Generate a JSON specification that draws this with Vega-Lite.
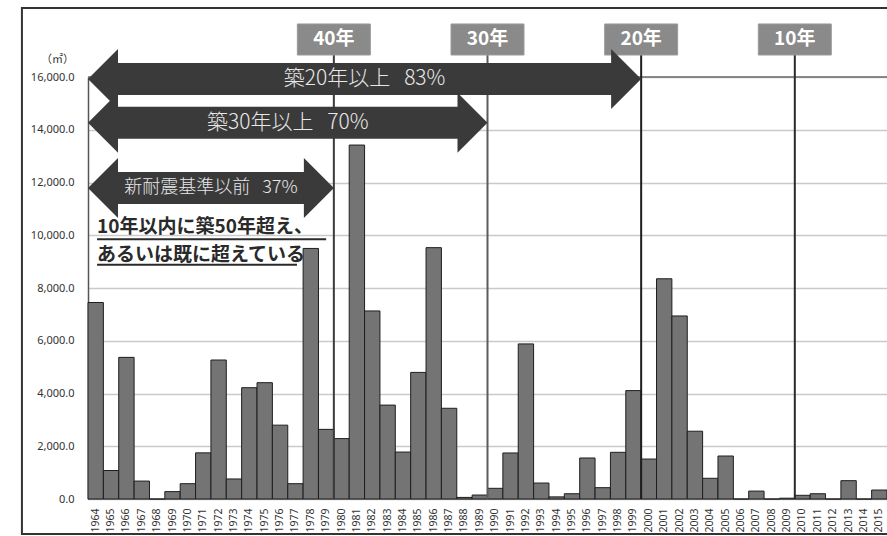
{
  "$schema": "https://vega.github.io/schema/vega-lite/v6.json",
  "width": 799,
  "height": 422,
  "autosize": "none",
  "padding": {"left": 88, "top": 77, "right": 0, "bottom": 37},
  "background": "white",
  "config": {"view": {"stroke": null}, "font": "Noto Sans"},
  "datasets": {
    "bars": [
      {"year": "1964", "area": 7450}, {"year": "1965", "area": 1080}, {"year": "1966", "area": 5370},
      {"year": "1967", "area": 680}, {"year": "1968", "area": 0}, {"year": "1969", "area": 280},
      {"year": "1970", "area": 580}, {"year": "1971", "area": 1750}, {"year": "1972", "area": 5270},
      {"year": "1973", "area": 760}, {"year": "1974", "area": 4220}, {"year": "1975", "area": 4410},
      {"year": "1976", "area": 2800}, {"year": "1977", "area": 580}, {"year": "1978", "area": 9500},
      {"year": "1979", "area": 2640}, {"year": "1980", "area": 2290}, {"year": "1981", "area": 13420},
      {"year": "1982", "area": 7130}, {"year": "1983", "area": 3560}, {"year": "1984", "area": 1780},
      {"year": "1985", "area": 4800}, {"year": "1986", "area": 9530}, {"year": "1987", "area": 3440},
      {"year": "1988", "area": 60}, {"year": "1989", "area": 150}, {"year": "1990", "area": 405},
      {"year": "1991", "area": 1745}, {"year": "1992", "area": 5880}, {"year": "1993", "area": 605},
      {"year": "1994", "area": 80}, {"year": "1995", "area": 200}, {"year": "1996", "area": 1555},
      {"year": "1997", "area": 430}, {"year": "1998", "area": 1770}, {"year": "1999", "area": 4110},
      {"year": "2000", "area": 1515}, {"year": "2001", "area": 8350}, {"year": "2002", "area": 6940},
      {"year": "2003", "area": 2570}, {"year": "2004", "area": 785}, {"year": "2005", "area": 1630},
      {"year": "2006", "area": 0}, {"year": "2007", "area": 300}, {"year": "2008", "area": 0},
      {"year": "2009", "area": 30}, {"year": "2010", "area": 140}, {"year": "2011", "area": 200},
      {"year": "2012", "area": 0}, {"year": "2013", "area": 695}, {"year": "2014", "area": 0},
      {"year": "2015", "area": 340}
    ],
    "marks": [
      {"label": "40年", "year": 1980},
      {"label": "30年", "year": 1990},
      {"label": "20年", "year": 2000},
      {"label": "10年", "year": 2010}
    ],
    "arrows": [
      {"label": "築20年以上\u00a0\u00a0\u00a083%", "from": 1964, "to": 2000, "mid": 1982, "level": 15920},
      {"label": "築30年以上\u00a0\u00a0\u00a070%", "from": 1964, "to": 1990, "mid": 1977, "level": 14270},
      {"label": "新耐震基準以前\u00a0\u00a0\u00a037%", "from": 1964, "to": 1980, "mid": 1972, "level": 11790}
    ],
    "one": [{}]
  },
  "resolve": {"scale": {"x": "independent"}},
  "layer": [
    {
      "data": {"name": "bars"},
      "mark": {"type": "bar", "fill": "#747474", "stroke": "#1e1e1e", "strokeWidth": 1},
      "encoding": {
        "x": {
          "field": "year", "type": "ordinal",
          "scale": {"paddingInner": 0, "paddingOuter": 0},
          "axis": {
            "title": null, "labelAngle": -90, "labelFontSize": 10.5, "labelColor": "#333",
            "ticks": false, "labelPadding": 9, "domainColor": "#999", "domainWidth": 1,
            "grid": false, "labelOverlap": false
          }
        },
        "y": {
          "field": "area", "type": "quantitative",
          "scale": {"domain": [0, 16000], "nice": false},
          "axis": {
            "values": [0, 2000, 4000, 6000, 8000, 10000, 12000, 14000, 16000],
            "format": ",.1f",
            "title": "（㎡）", "titleAngle": 0, "titleX": -31, "titleY": -18,
            "titleAlign": "center", "titleBaseline": "middle",
            "titleFont": "Noto Sans CJK JP", "titleFontSize": 11, "titleFontWeight": "normal",
            "titleColor": "#333",
            "labelFontSize": 11, "labelColor": "#333", "labelPadding": 14,
            "ticks": false, "domainColor": "#555", "domainWidth": 1.5,
            "gridColor": "#cacaca", "gridWidth": 1.5
          }
        }
      }
    },
    {
      "layer": [
        {
          "data": {"name": "one"},
          "mark": {"type": "rect", "fillOpacity": 0, "stroke": "#333", "strokeWidth": 2},
          "encoding": {
            "x": {"datum": 1959.7, "type": "quantitative", "scale": {"domain": [1964, 2016], "nice": false, "zero": false}, "axis": null},
            "x2": {"datum": 2018},
            "y": {"datum": -1327, "type": "quantitative", "scale": {"domain": [0, 16000], "nice": false}},
            "y2": {"datum": 18616}
          }
        },
        {
          "data": {"name": "one"},
          "mark": {"type": "rule", "color": "#6a6a6a", "strokeWidth": 1.5},
          "encoding": {
            "y": {"datum": 16000, "type": "quantitative", "scale": {"domain": [0, 16000], "nice": false}}
          }
        },
        {
          "data": {"name": "marks"},
          "mark": {"type": "rule", "strokeWidth": 2},
          "encoding": {
            "x": {"field": "year", "type": "quantitative", "scale": {"domain": [1964, 2016], "nice": false, "zero": false}, "axis": null},
            "y": {"datum": 0, "type": "quantitative", "scale": {"domain": [0, 16000], "nice": false}},
            "y2": {"datum": 16834},
            "color": {
              "field": "label", "type": "nominal",
              "scale": {"domain": ["40年", "30年", "20年", "10年"], "range": ["#3a3a3a", "#5c5c5c", "#1e1e1e", "#2a2a2a"]},
              "legend": null
            }
          }
        },
        {
          "data": {"name": "marks"},
          "mark": {"type": "point", "shape": "M-1,-0.425L1,-0.425L1,0.425L-1,0.425Z", "size": 5329, "filled": true, "fill": "#8a8a8a", "opacity": 1, "stroke": "#9a9a9a", "strokeWidth": 1},
          "encoding": {
            "x": {"field": "year", "type": "quantitative", "scale": {"domain": [1964, 2016], "nice": false, "zero": false}, "axis": null},
            "y": {"datum": 17422, "type": "quantitative", "scale": {"domain": [0, 16000], "nice": false}}
          }
        },
        {
          "data": {"name": "marks"},
          "mark": {"type": "text", "font": "Noto Sans CJK JP", "fontWeight": "bold", "fontSize": 19, "color": "white", "align": "center", "baseline": "middle"},
          "encoding": {
            "x": {"field": "year", "type": "quantitative", "scale": {"domain": [1964, 2016], "nice": false, "zero": false}, "axis": null},
            "y": {"datum": 17422, "type": "quantitative", "scale": {"domain": [0, 16000], "nice": false}},
            "text": {"field": "label"}
          }
        },
        {
          "data": {"name": "arrows"},
          "mark": {"type": "rule", "color": "#3a3a3a", "strokeWidth": 32, "xOffset": 29, "x2Offset": -29, "strokeCap": "butt"},
          "encoding": {
            "x": {"field": "from", "type": "quantitative", "scale": {"domain": [1964, 2016], "nice": false, "zero": false}, "axis": null},
            "x2": {"field": "to"},
            "y": {"field": "level", "type": "quantitative", "scale": {"domain": [0, 16000], "nice": false}}
          }
        },
        {
          "data": {"name": "arrows"},
          "mark": {"type": "point", "shape": "M0,0L1,-1L1,1Z", "size": 3600, "filled": true, "fill": "#3a3a3a", "opacity": 1, "strokeWidth": 0},
          "encoding": {
            "x": {"field": "from", "type": "quantitative", "scale": {"domain": [1964, 2016], "nice": false, "zero": false}, "axis": null},
            "y": {"field": "level", "type": "quantitative", "scale": {"domain": [0, 16000], "nice": false}}
          }
        },
        {
          "data": {"name": "arrows"},
          "mark": {"type": "point", "shape": "M0,0L-1,-1L-1,1Z", "size": 3600, "filled": true, "fill": "#3a3a3a", "opacity": 1, "strokeWidth": 0},
          "encoding": {
            "x": {"field": "to", "type": "quantitative", "scale": {"domain": [1964, 2016], "nice": false, "zero": false}, "axis": null},
            "y": {"field": "level", "type": "quantitative", "scale": {"domain": [0, 16000], "nice": false}}
          }
        },
        {
          "data": {"name": "arrows"},
          "mark": {"type": "text", "font": "Noto Sans CJK JP", "fontWeight": 300, "color": "#e8e8e8", "align": "center", "baseline": "middle"},
          "encoding": {
            "x": {"field": "mid", "type": "quantitative", "scale": {"domain": [1964, 2016], "nice": false, "zero": false}, "axis": null},
            "y": {"field": "level", "type": "quantitative", "scale": {"domain": [0, 16000], "nice": false}},
            "text": {"field": "label"},
            "size": {"condition": {"test": "datum.to === 1980", "value": 18}, "value": 21}
          }
        },
        {
          "data": {"name": "one"},
          "mark": {"type": "text", "text": "10年以内に築50年超え、", "font": "Noto Sans CJK JP", "fontWeight": "bold", "fontSize": 19, "color": "#2a2a2a", "align": "left", "baseline": "middle"},
          "encoding": {
            "x": {"datum": 1964.59, "type": "quantitative", "scale": {"domain": [1964, 2016], "nice": false, "zero": false}, "axis": null},
            "y": {"datum": 10295, "type": "quantitative", "scale": {"domain": [0, 16000], "nice": false}}
          }
        },
        {
          "data": {"name": "one"},
          "mark": {"type": "text", "text": "あるいは既に超えている", "font": "Noto Sans CJK JP", "fontWeight": "bold", "fontSize": 19, "color": "#2a2a2a", "align": "left", "baseline": "middle"},
          "encoding": {
            "x": {"datum": 1964.59, "type": "quantitative", "scale": {"domain": [1964, 2016], "nice": false, "zero": false}, "axis": null},
            "y": {"datum": 9233, "type": "quantitative", "scale": {"domain": [0, 16000], "nice": false}}
          }
        },
        {
          "data": {"name": "one"},
          "mark": {"type": "rule", "color": "#2a2a2a", "strokeWidth": 2},
          "encoding": {
            "x": {"datum": 1964.59, "type": "quantitative", "scale": {"domain": [1964, 2016], "nice": false, "zero": false}, "axis": null},
            "x2": {"datum": 1979.5},
            "y": {"datum": 9847, "type": "quantitative", "scale": {"domain": [0, 16000], "nice": false}}
          }
        },
        {
          "data": {"name": "one"},
          "mark": {"type": "rule", "color": "#2a2a2a", "strokeWidth": 2},
          "encoding": {
            "x": {"datum": 1964.59, "type": "quantitative", "scale": {"domain": [1964, 2016], "nice": false, "zero": false}, "axis": null},
            "x2": {"datum": 1977.6},
            "y": {"datum": 8880, "type": "quantitative", "scale": {"domain": [0, 16000], "nice": false}}
          }
        }
      ]
    }
  ]
}
